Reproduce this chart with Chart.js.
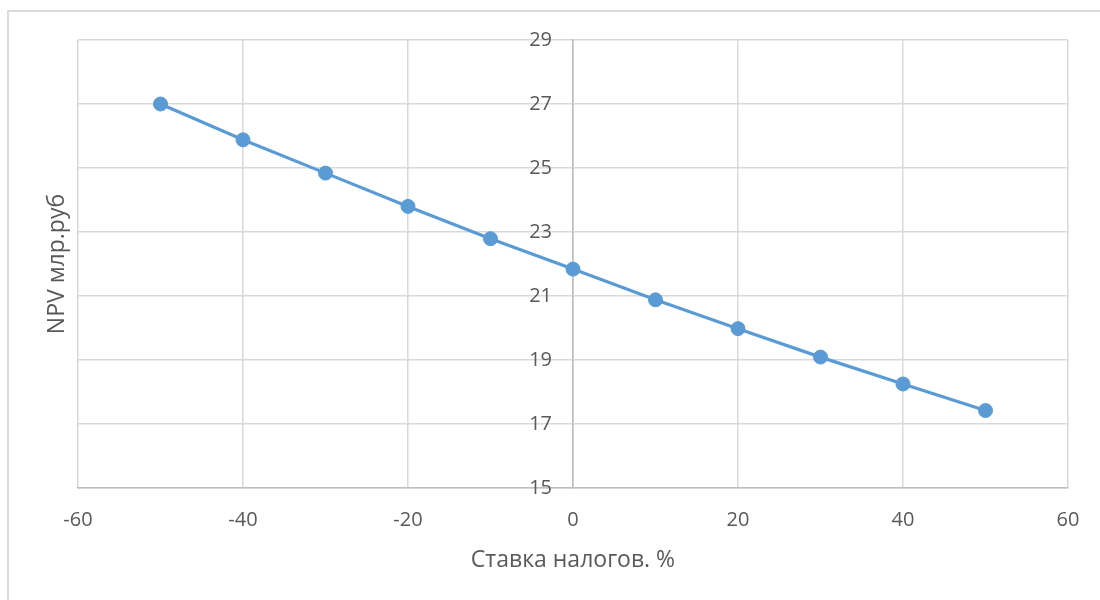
<!DOCTYPE html>
<html lang="ru">
<head>
<meta charset="utf-8">
<title>NPV</title>
<script src="https://cdn.jsdelivr.net/npm/chart.js@4/dist/chart.umd.min.js"></script>
<style>
  html, body { margin: 0; padding: 0; background: #ffffff; }
  #wrap { position: relative; width: 1100px; height: 600px; overflow: hidden; }
  #frame {
    position: absolute; left: 7px; top: 10px; width: 1200px; height: 700px;
    border-left: 2px solid #dadada; border-top: 2px solid #dadada;
    pointer-events: none;
  }
</style>
</head>
<body>
<div id="wrap">
  <canvas id="chart" width="1100" height="600"></canvas>
  <div id="frame"></div>
</div>
<script>
// Tax rate, % (x) and NPV, bn rub (y)
const taxRates = [-50, -40, -30, -20, -10, 0, 10, 20, 30, 40, 50];
const npvValues = [27.0, 25.88, 24.84, 23.8, 22.79, 21.84, 20.88, 19.98, 19.09, 18.25, 17.42];

// Axis ranges and tick steps
const xRange = [-60, 60];
const xStep = 20;
const yRange = [15, 29];
const yStep = 2;

const xTitle = 'Ставка налогов. %';
const yTitle = 'NPV млр.руб';

const textColor = '#595959';
const gridColor = '#d9d9d9';
const axisColor = '#bfbfbf';
const lineColor = '#5b9bd5';
const fontFamily = '"Open Sans", "Noto Sans", sans-serif';

// Linear scale that crosses the plot at a value and keeps its tick padding,
// so the value labels sit just left of the crossing line.
class CrossLinearScale extends Chart.LinearScale {
  static id = 'crossLinear';
  static defaults = Chart.LinearScale.defaults;
  _computeLabelItems(chartArea) {
    const items = super._computeLabelItems(chartArea);
    const pad = this.options.ticks.padding || 0;
    items.forEach((item) => { item.options.translation[0] -= pad; });
    return items;
  }
}
Chart.register(CrossLinearScale);

const points = taxRates.map((x, i) => ({ x: x, y: npvValues[i] }));

new Chart(document.getElementById('chart'), {
  type: 'scatter',
  data: {
    datasets: [{
      data: points,
      showLine: true,
      borderColor: lineColor,
      backgroundColor: lineColor,
      borderWidth: 3.2,
      pointRadius: 7,
      pointHoverRadius: 7,
      pointBorderWidth: 1,
      pointBackgroundColor: lineColor,
      pointBorderColor: lineColor,
      tension: 0
    }]
  },
  options: {
    responsive: false,
    animation: false,
    layout: { padding: { left: 0, top: 40, right: 32, bottom: 0 } },
    plugins: {
      legend: { display: false },
      tooltip: { enabled: false }
    },
    scales: {
      x: {
        type: 'linear',
        position: 'bottom',
        min: xRange[0],
        max: xRange[1],
        afterFit: (scale) => { scale.height = 112; },
        ticks: {
          stepSize: xStep,
          color: textColor,
          font: { family: fontFamily, size: 20 },
          padding: 20
        },
        grid: {
          color: (ctx) => (ctx.tick && ctx.tick.value === 0 ? axisColor : gridColor),
          lineWidth: 1.5,
          drawTicks: false
        },
        border: { color: axisColor, width: 1.5 },
        title: {
          display: true,
          text: xTitle,
          color: textColor,
          font: { family: fontFamily, size: 23 },
          padding: { top: 14, bottom: 26 }
        }
      },
      y: {
        type: 'crossLinear',
        position: { x: 0 },
        min: yRange[0],
        max: yRange[1],
        ticks: {
          stepSize: yStep,
          color: textColor,
          font: { family: fontFamily, size: 20 },
          padding: 21
        },
        grid: {
          color: gridColor,
          lineWidth: 1.5,
          drawTicks: false
        },
        border: { color: axisColor, width: 1.5 }
      },
      yLabel: {
        type: 'linear',
        axis: 'y',
        position: 'left',
        afterFit: (scale) => { scale.width = 78; },
        ticks: { display: false },
        grid: { display: false, drawTicks: false },
        border: { display: false },
        title: {
          display: true,
          text: yTitle,
          color: textColor,
          font: { family: fontFamily, size: 23 },
          padding: { top: 44, bottom: 6 }
        }
      }
    }
  }
});
</script>
</body>
</html>
